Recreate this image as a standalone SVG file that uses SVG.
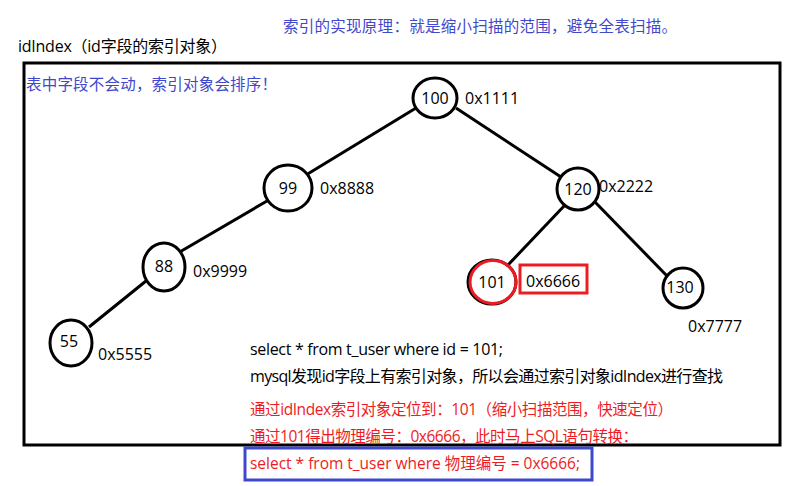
<svg xmlns="http://www.w3.org/2000/svg" width="791" height="486" viewBox="0 0 791 486">
<style>
text{font-family:"Open Sans","Noto Sans CJK SC",sans-serif;font-size:16px;fill:#000}
.b{fill:#3f48cc;font-size:15.5px}
.r{fill:#ed1c24;font-size:15.5px}
.n{text-anchor:middle}
.c{fill:#fff;stroke:#000;stroke-width:3}
.e{stroke:#000;stroke-width:3;fill:none}
</style>
<rect width="791" height="486" fill="#fff"/>
<text class="b" x="283" y="32" textLength="394" lengthAdjust="spacing">索引的实现原理：就是缩小扫描的范围，避免全表扫描。</text>
<text x="18" y="52" textLength="209" lengthAdjust="spacing">idIndex（id字段的索引对象）</text>
<rect x="24" y="63" width="756" height="382" fill="none" stroke="#000" stroke-width="3"/>
<text class="b" x="26" y="90" textLength="251" lengthAdjust="spacing">表中字段不会动，索引对象会排序！</text>
<g id="connectors">
<line class="e" x1="416" y1="108" x2="306" y2="175"/>
<line class="e" x1="456" y1="108" x2="561" y2="177"/>
<line class="e" x1="267" y1="201" x2="178" y2="253"/>
<line class="e" x1="146" y1="281" x2="89" y2="327"/>
<line class="e" x1="565" y1="205" x2="508" y2="265"/>
<line class="e" x1="595" y1="202" x2="669" y2="278"/>
</g>
<g id="n100"><ellipse class="c" cx="435" cy="98" rx="22" ry="20"/><text class="n" x="435" y="104">100</text><text x="465" y="104">0x1111</text></g>
<g id="n99"><ellipse class="c" cx="288" cy="188" rx="24" ry="23"/><text class="n" x="288" y="194">99</text><text x="320" y="194">0x8888</text></g>
<g id="n120"><ellipse class="c" cx="578" cy="189" rx="21" ry="21"/><text class="n" x="578" y="195">120</text><text x="599" y="192">0x2222</text></g>
<g id="n88"><ellipse class="c" cx="164" cy="267" rx="21" ry="24"/><text class="n" x="164" y="272">88</text><text x="193" y="277">0x9999</text></g>
<g id="n55"><ellipse class="c" cx="71" cy="343" rx="21" ry="23"/><text class="n" x="69" y="347">55</text><text x="98" y="360">0x5555</text></g>
<g id="n101"><ellipse cx="492" cy="282" rx="24" ry="22" fill="#fff" stroke="#000" stroke-width="3"/><ellipse cx="493" cy="282" rx="23" ry="21.5" fill="none" stroke="#ed1c24" stroke-width="3"/><text class="n" x="492" y="288">101</text><rect x="520" y="265" width="67" height="28" fill="none" stroke="#ed1c24" stroke-width="3"/><text x="526" y="287">0x6666</text></g>
<g id="n130"><ellipse class="c" cx="683" cy="288" rx="20" ry="20"/><text class="n" x="680" y="293">130</text><text x="688" y="332">0x7777</text></g>
<text x="250" y="355" textLength="253" lengthAdjust="spacing">select * from t_user where id = 101;</text>
<text x="250" y="382" textLength="473" lengthAdjust="spacing">mysql发现id字段上有索引对象，所以会通过索引对象idIndex进行查找</text>
<text class="r" x="250" y="415" textLength="423" lengthAdjust="spacing">通过idIndex索引对象定位到：101（缩小扫描范围，快速定位）</text>
<text class="r" x="250" y="442" textLength="388" lengthAdjust="spacing">通过101得出物理编号：0x6666，此时马上SQL语句转换：</text>
<rect x="245" y="448" width="347" height="32" fill="none" stroke="#3f48cc" stroke-width="3"/>
<text class="r" x="250" y="469" textLength="330" lengthAdjust="spacing">select * from t_user where 物理编号 = 0x6666;</text>
</svg>
